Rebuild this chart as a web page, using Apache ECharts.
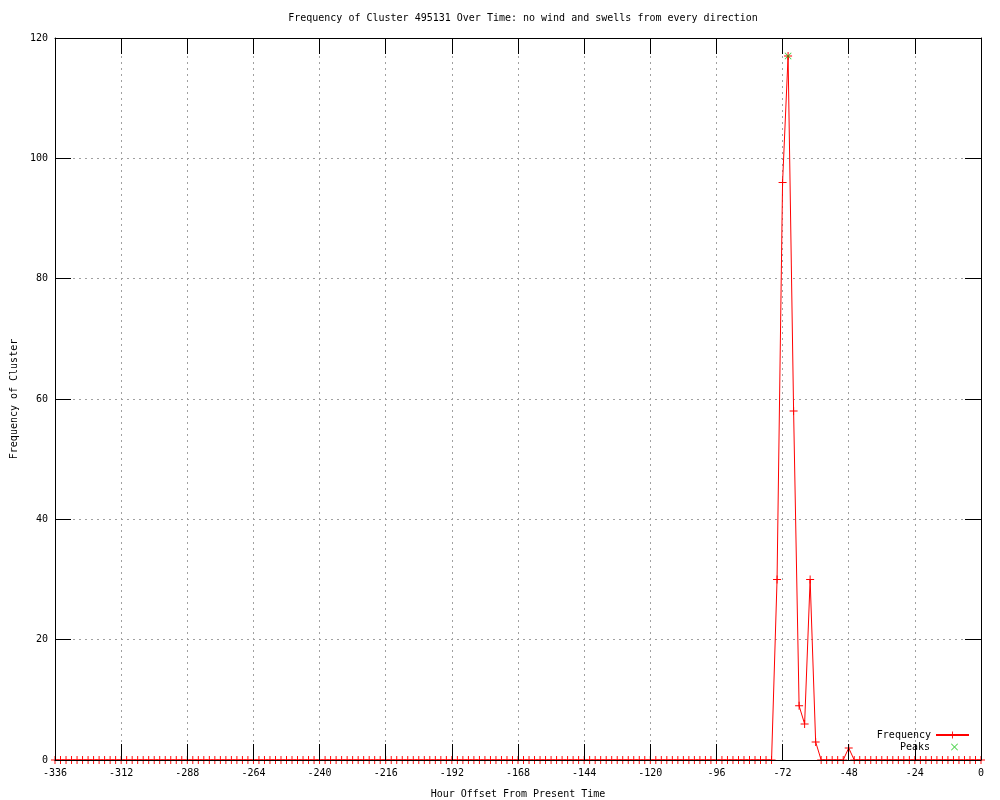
<!DOCTYPE html>
<html>
<head>
<meta charset="utf-8">
<script src="https://cdn.jsdelivr.net/npm/echarts@6/dist/echarts.min.js"></script>
<style>
html,body{margin:0;padding:0;background:#fff;}
#chart{width:1000px;height:800px;}
</style>
</head>
<body>
<div id="chart"></div>
<script>
// Hour offsets (x values of the Frequency series)
var hours = [
  -336,-334,-332,-330,-328,-326,-324,-322,-320,-318,-316,-314,
  -312,-310,-308,-306,-304,-302,-300,-298,-296,-294,-292,-290,
  -288,-286,-284,-282,-280,-278,-276,-274,-272,-270,-268,-266,
  -264,-262,-260,-258,-256,-254,-252,-250,-248,-246,-244,-242,
  -240,-238,-236,-234,-232,-230,-228,-226,-224,-222,-220,-218,
  -216,-214,-212,-210,-208,-206,-204,-202,-200,-198,-196,-194,
  -192,-190,-188,-186,-184,-182,-180,-178,-176,-174,-172,-170,
  -168,-166,-164,-162,-160,-158,-156,-154,-152,-150,-148,-146,
  -144,-142,-140,-138,-136,-134,-132,-130,-128,-126,-124,-122,
  -120,-118,-116,-114,-112,-110,-108,-106,-104,-102,-100,-98,
  -96,-94,-92,-90,-88,-86,-84,-82,-80,-78,-76,-74,
  -72,-70,-68,-66,-64,-62,-60,-58,-56,-54,-52,-50,
  -48,-46,-44,-42,-40,-38,-36,-34,-32,-30,-28,-26,
  -24,-22,-20,-18,-16,-14,-12,-10,-8,-6,-4,-2,
  0
];
// Frequency of cluster at each hour offset
var frequency = [
  0,0,0,0,0,0,0,0,0,0,0,0,
  0,0,0,0,0,0,0,0,0,0,0,0,
  0,0,0,0,0,0,0,0,0,0,0,0,
  0,0,0,0,0,0,0,0,0,0,0,0,
  0,0,0,0,0,0,0,0,0,0,0,0,
  0,0,0,0,0,0,0,0,0,0,0,0,
  0,0,0,0,0,0,0,0,0,0,0,0,
  0,0,0,0,0,0,0,0,0,0,0,0,
  0,0,0,0,0,0,0,0,0,0,0,0,
  0,0,0,0,0,0,0,0,0,0,0,0,
  0,0,0,0,0,0,0,0,0,0,0,30,
  96,117,58,9,6,30,3,0,0,0,0,0,
  2,0,0,0,0,0,0,0,0,0,0,0,
  0,0,0,0,0,0,0,0,0,0,0,0,
  0
];
var peakHours = [-70];
var peakValues = [117];

var xTicks = {min: -336, max: 0, interval: 24};
var yTicks = {min: 0, max: 120, interval: 20};

var FONT = '"DejaVu Sans Mono", "Liberation Mono", monospace';
var plusPath = 'path://M0,4.4H10V5.6H0Z M4.4,0H5.6V10H4.4Z';
var crossPath = 'path://M0.8,0L5,4.2L9.2,0L10,0.8L5.8,5L10,9.2L9.2,10L5,5.8L0.8,10L0,9.2L4.2,5L0,0.8Z';

var freqData = hours.map(function (h, i) { return [h, frequency[i]]; });
var peakData = peakHours.map(function (h, i) { return [h, peakValues[i]]; });

var gridLine = {show: true, lineStyle: {color: '#a0a0a0', type: [2, 4], width: 1}};
var legendText = {fontFamily: FONT, fontSize: 10, color: '#000'};

var chart = echarts.init(document.getElementById('chart'), null, {renderer: 'canvas'});
chart.setOption({
  animation: false,
  backgroundColor: '#ffffff',
  textStyle: {fontFamily: FONT},
  title: {
    text: 'Frequency of Cluster 495131 Over Time: no wind and swells from every direction',
    left: 518, top: 8, textAlign: 'center',
    textStyle: {fontFamily: FONT, fontSize: 10, fontWeight: 'normal', color: '#000'}
  },
  grid: {left: 55, right: 19, top: 38, bottom: 40, containLabel: false, outerBoundsMode: 'none'},
  legend: [
    {
      orient: 'vertical', right: 30, top: 730, align: 'right', padding: 0,
      itemWidth: 33, itemHeight: 9, textStyle: legendText,
      data: [{name: 'Frequency'}]
    },
    {
      orient: 'vertical', right: 42, top: 742, align: 'right', padding: 0,
      itemWidth: 33, itemHeight: 7,
      textStyle: {fontFamily: FONT, fontSize: 10, color: '#000', padding: [0, 3, 0, 0]},
      data: [{name: 'Peaks', icon: crossPath, itemStyle: {color: '#00c000'}}]
    }
  ],
  xAxis: [
    {
      type: 'value', position: 'bottom', min: xTicks.min, max: xTicks.max, interval: xTicks.interval,
      z: 5,
      name: 'Hour Offset From Present Time', nameLocation: 'middle', nameGap: 29,
      nameTextStyle: {fontFamily: FONT, fontSize: 10, color: '#000'},
      axisLine: {show: true, onZero: false, lineStyle: {color: '#000', width: 1}},
      axisTick: {show: true, inside: true, length: 16, lineStyle: {color: '#000'}},
      axisLabel: {show: true, margin: 8, fontFamily: FONT, fontSize: 10, color: '#000'},
      splitLine: {show: false}
    },
    {
      type: 'value', position: 'top', min: xTicks.min, max: xTicks.max, interval: xTicks.interval,
      z: 0,
      axisLine: {show: true, onZero: false, lineStyle: {color: '#000', width: 1}},
      axisTick: {show: true, inside: true, length: 16, lineStyle: {color: '#000'}},
      axisLabel: {show: false},
      splitLine: gridLine
    }
  ],
  yAxis: [
    {
      type: 'value', position: 'left', min: yTicks.min, max: yTicks.max, interval: yTicks.interval,
      z: 5,
      name: 'Frequency of Cluster', nameLocation: 'middle', nameGap: 36, nameRotate: 90,
      nameTextStyle: {fontFamily: FONT, fontSize: 10, color: '#000'},
      axisLine: {show: true, onZero: false, lineStyle: {color: '#000', width: 1}},
      axisTick: {show: true, inside: true, length: 16, lineStyle: {color: '#000'}},
      axisLabel: {show: true, margin: 7, fontFamily: FONT, fontSize: 10, color: '#000'},
      splitLine: {show: false}
    },
    {
      type: 'value', position: 'right', min: yTicks.min, max: yTicks.max, interval: yTicks.interval,
      z: 0,
      axisLine: {show: true, onZero: false, lineStyle: {color: '#000', width: 1}},
      axisTick: {show: true, inside: true, length: 16, lineStyle: {color: '#000'}},
      axisLabel: {show: false},
      splitLine: gridLine
    }
  ],
  series: [
    {
      name: 'Frequency', type: 'line', xAxisIndex: 0, yAxisIndex: 0,
      data: freqData,
      symbol: plusPath, symbolSize: 8, showAllSymbol: true,
      lineStyle: {color: '#ff0000', width: 1},
      itemStyle: {color: '#ff0000'},
      z: 2
    },
    {
      name: 'Peaks', type: 'scatter', xAxisIndex: 0, yAxisIndex: 0,
      data: peakData,
      symbol: crossPath, symbolSize: 7,
      itemStyle: {color: '#00c000'},
      z: 3
    }
  ]
});
</script>
</body>
</html>
